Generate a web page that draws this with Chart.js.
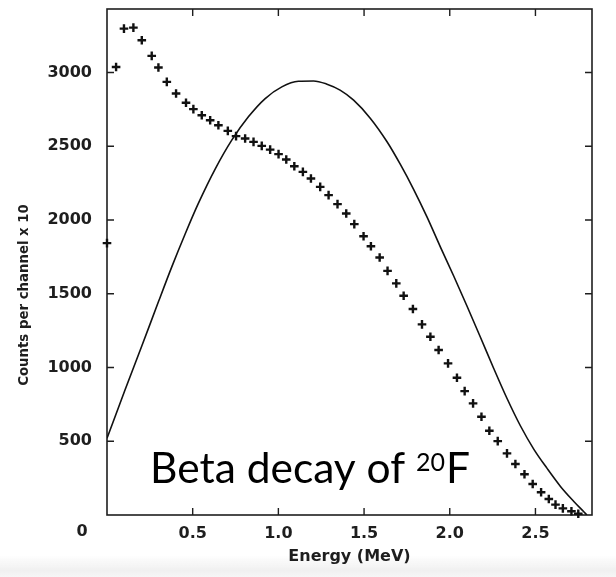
<!DOCTYPE html>
<html>
<head>
<meta charset="utf-8">
<script src="https://cdn.jsdelivr.net/npm/chart.js@4.4.1/dist/chart.umd.min.js"></script>
<style>
  html, body { margin: 0; padding: 0; background: #ffffff; }
  canvas { display: block; }
</style>
</head>
<body>
<canvas id="c" width="616" height="577"></canvas>
<script>
// ---- data ----
const crossEnergy = [0, 0.053, 0.099, 0.154, 0.203, 0.261, 0.300, 0.349, 0.403, 0.461,
  0.504, 0.553, 0.602, 0.650, 0.705, 0.753, 0.806, 0.855, 0.903, 0.952,
  1.001, 1.046, 1.093, 1.143, 1.190, 1.244, 1.293, 1.345, 1.396, 1.443,
  1.497, 1.540, 1.591, 1.637, 1.688, 1.731, 1.785, 1.838, 1.887, 1.935,
  1.990, 2.042, 2.087, 2.136, 2.185, 2.231, 2.280, 2.334, 2.383, 2.436,
  2.484, 2.533, 2.578, 2.617, 2.660, 2.710, 2.750];
const crossCounts = [1843, 3037, 3297, 3304, 3218, 3112, 3033, 2936, 2857, 2794,
  2751, 2710, 2676, 2642, 2604, 2568, 2552, 2529, 2502, 2477,
  2446, 2410, 2364, 2326, 2281, 2224, 2168, 2107, 2044, 1972,
  1890, 1822, 1746, 1655, 1570, 1486, 1396, 1292, 1208, 1118,
  1028, 930, 840, 757, 666, 571, 501, 418, 346, 276,
  210, 154, 108, 70, 45, 25, 8];

const curveEnergy = [0, 0.105, 0.203, 0.300, 0.378, 0.456, 0.533, 0.631, 0.728, 0.825,
  0.923, 1.020, 1.117, 1.205, 1.280, 1.360, 1.439, 1.536, 1.634, 1.711,
  1.789, 1.867, 1.945, 2.023, 2.101, 2.179, 2.256, 2.335, 2.412, 2.490,
  2.568, 2.646, 2.724, 2.782, 2.800];
const curveCounts = [520, 847, 1145, 1445, 1682, 1905, 2112, 2345, 2541, 2699,
  2823, 2902, 2940, 2942, 2922, 2880, 2812, 2690, 2530, 2378,
  2208, 2021, 1818, 1620, 1415, 1205, 995, 788, 605, 447,
  316, 194, 92, 22, 0];

const xTickValues = [0.5, 1.0, 1.5, 2.0, 2.5];
const yTickValues = [500, 1000, 1500, 2000, 2500, 3000];
const xTitle = 'Energy (MeV)';
const yTitle = 'Counts per channel x 10';
const cornerLabel = '0';
const noteMain = 'Beta decay of ';
const noteSup = '20';
const noteEnd = 'F';

// ---- styling ----
const INK = '#1e1e1e';
const tickFont = { family: 'DejaVu Sans', size: 16, weight: 'bold' };
const xTitleFont = { family: 'DejaVu Sans', size: 16, weight: 'bold' };

const framePlugin = {
  id: 'frame',
  beforeDraw(chart) {
    const { ctx, width, height } = chart;
    ctx.save();
    const g = ctx.createLinearGradient(0, height - 22, 0, height);
    g.addColorStop(0, 'rgba(240,240,240,0)');
    g.addColorStop(0.7, 'rgba(240,240,240,1)');
    g.addColorStop(1, 'rgba(246,246,246,1)');
    ctx.fillStyle = g;
    ctx.fillRect(0, height - 22, width, 22);
    ctx.restore();
  },
  beforeDatasetsDraw(chart) {
    const { ctx, chartArea: a, scales } = chart;
    const xs = scales.x, ys = scales.y;
    ctx.save();
    ctx.strokeStyle = INK;
    ctx.lineWidth = 1.6;
    ctx.strokeRect(a.left, a.top, a.right - a.left, a.bottom - a.top);
    ctx.lineWidth = 1.4;
    const L = 7;
    ctx.beginPath();
    xs.ticks.forEach(t => {
      const px = xs.getPixelForValue(t.value);
      ctx.moveTo(px, a.bottom); ctx.lineTo(px, a.bottom - L);
      ctx.moveTo(px, a.top); ctx.lineTo(px, a.top + L);
    });
    ys.ticks.forEach(t => {
      const py = ys.getPixelForValue(t.value);
      ctx.moveTo(a.left, py); ctx.lineTo(a.left + L, py);
      ctx.moveTo(a.right, py); ctx.lineTo(a.right - L, py);
    });
    ctx.stroke();
    ctx.restore();
  },
  afterDraw(chart) {
    const { ctx, chartArea: a } = chart;
    ctx.save();
    ctx.fillStyle = INK;
    ctx.textAlign = 'center';
    ctx.textBaseline = 'middle';
    ctx.font = 'bold 16px "DejaVu Sans"';
    ctx.fillText(cornerLabel, a.left - 25, a.bottom + 17);

    ctx.save();
    ctx.translate(a.left - 82, a.top + 286);
    ctx.rotate(-Math.PI / 2);
    ctx.font = 'bold 13.3px "DejaVu Sans"';
    ctx.fillText(yTitle, 0, 0);
    ctx.restore();

    ctx.fillStyle = '#000';
    ctx.textAlign = 'left';
    ctx.textBaseline = 'alphabetic';
    let x0 = a.left + 43;
    const base = a.bottom - 32;
    ctx.font = '42.5px Lato';
    ctx.fillText(noteMain, x0, base);
    x0 += ctx.measureText(noteMain).width;
    ctx.font = '25px Lato';
    ctx.fillText(noteSup, x0, base - 12);
    x0 += ctx.measureText(noteSup).width + 1;
    ctx.font = '42.5px Lato';
    ctx.fillText(noteEnd, x0, base);
    ctx.restore();
  }
};

new Chart(document.getElementById('c'), {
  type: 'scatter',
  data: {
    datasets: [
      {
        label: 'Measured',
        data: crossEnergy.map((e, i) => ({ x: e, y: crossCounts[i] })),
        pointStyle: 'cross',
        pointRadius: 4.3,
        pointBorderWidth: 2.4,
        borderColor: '#111',
        backgroundColor: '#111',
        showLine: false,
        clip: false
      },
      {
        label: 'Theory',
        data: curveEnergy.map((e, i) => ({ x: e, y: curveCounts[i] })),
        showLine: true,
        pointRadius: 0,
        borderColor: '#111',
        borderWidth: 1.6,
        cubicInterpolationMode: 'monotone',
        fill: false
      }
    ]
  },
  options: {
    responsive: false,
    animation: false,
    devicePixelRatio: 1,
    events: [],
    layout: { padding: { top: 9, right: 24, bottom: 0, left: 0 } },
    plugins: { legend: { display: false }, tooltip: { enabled: false } },
    scales: {
      x: {
        type: 'linear',
        min: 0,
        max: 2.83,
        grid: { display: false, drawTicks: false },
        border: { display: false },
        afterBuildTicks: s => { s.ticks = xTickValues.map(v => ({ value: v })); },
        afterFit: s => { s.height = 62; s.paddingLeft = 0; s.paddingRight = 0; },
        ticks: {
          font: tickFont, color: INK, padding: 9, maxRotation: 0, autoSkip: false,
          callback: v => Number(v).toFixed(1)
        },
        title: { display: true, text: xTitle, font: xTitleFont, color: INK, padding: { top: 0, bottom: 11 } }
      },
      y: {
        type: 'linear',
        min: 0,
        max: 3430,
        grid: { display: false, drawTicks: false },
        border: { display: false },
        afterBuildTicks: s => { s.ticks = yTickValues.map(v => ({ value: v })); },
        afterFit: s => { s.width = 107; s.paddingTop = 0; s.paddingBottom = 0; },
        ticks: { font: tickFont, color: INK, padding: 15, autoSkip: false, callback: v => String(v) },
        title: { display: false }
      }
    }
  },
  plugins: [framePlugin]
});
</script>
</body>
</html>
